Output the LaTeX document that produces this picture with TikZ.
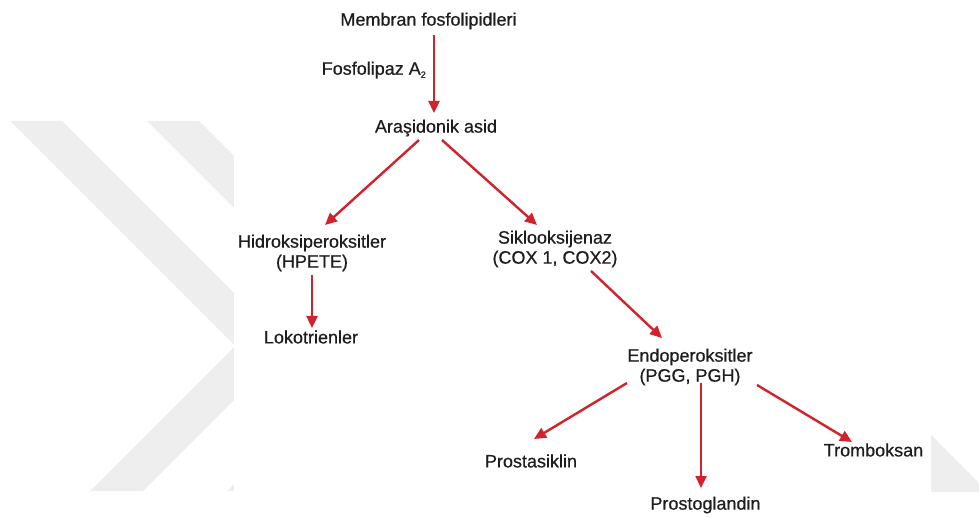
\documentclass[tikz,border=0pt]{standalone}
\usepackage{fontspec}
\setmainfont{Liberation Sans}
\newfontfamily\lblfont[FakeBold=0.5]{Liberation Sans}
\usetikzlibrary{arrows.meta,calc}
\definecolor{arrowred}{RGB}{210,35,45}
\definecolor{marktext}{RGB}{30,28,29}
\definecolor{markgray}{RGB}{238,238,238}

\begin{document}
\begin{tikzpicture}[x=1pt,y=-1pt,
    lbl/.style={text=marktext,font=\lblfont\fontsize{18}{20}\selectfont,align=center,inner sep=0pt},
    arr/.style={draw=arrowred,line width=2.4pt,-{Triangle[length=12pt,width=11pt]}}]
  \useasboundingbox (0,0) rectangle (979,518);

  % Watermark
  \fill[markgray] (10,121) -- (62,121) -- (287.5,346.5) -- (143,491)
    -- (90,491) -- (235,346) -- cycle;
  \fill[markgray] (147,121) -- (199,121) -- (424.5,346.5) -- (280,491)
    -- (227,491) -- (372,346) -- cycle;
  \fill[markgray] (931,435) -- (979,483) -- (979,492) -- (931,492) -- cycle;

  % Panel
  \fill[white] (234,0) rectangle (931,518);

  % Nodes
  \node[lbl] (mem) at (428.5,21) {Membran fosfolipidleri};
  \node[lbl] (ara) at (436,128) {Araşidonik asid};
  \node[lbl] (hidro) at (312,253) {Hidroksiperoksitler\\(HPETE)};
  \node[lbl] (sikl) at (555,249) {Siklooksijenaz\\(COX 1, COX2)};
  \node[lbl] (loko) at (311,337) {Lokotrienler};
  \node[lbl] (endo) at (690,367) {Endoperoksitler\\(PGG, PGH)};
  \node[lbl] (pstas) at (531,461) {Prostasiklin};
  \node[lbl] (pglan) at (705.5,505) {Prostoglandin};
  \node[lbl] (tromb) at (873.5,450) {Tromboksan};

  % Arrows
  \draw[arr] ($(mem)+(5.5,14)$) -- node[lbl,pos=0.45,left=7pt] (fosf)
    {Fosfolipaz A\raisebox{-3pt}{\fontsize{9}{9}\selectfont 2}}
    ($(ara)+(-2,-15)$);
  \draw[arr] ($(ara)+(-17,12)$) -- ($(hidro)+(13,-28)$);
  \draw[arr] ($(ara)+(6,12)$) -- ($(sikl)+(-18,-24)$);
  \draw[arr] ($(hidro)+(0,22)$) -- ($(loko)+(1,-9)$);
  \draw[arr] ($(sikl)+(36,22)$) -- ($(endo)+(-28,-29)$);
  \draw[arr] ($(endo)+(-63,16)$) -- ($(pstas)+(3,-22)$);
  \draw[arr] ($(endo)+(11,16)$) -- ($(pglan)+(-4.5,-17)$);
  \draw[arr] ($(endo)+(67,18)$) -- ($(tromb)+(-21.5,-8)$);
\end{tikzpicture}
\end{document}
